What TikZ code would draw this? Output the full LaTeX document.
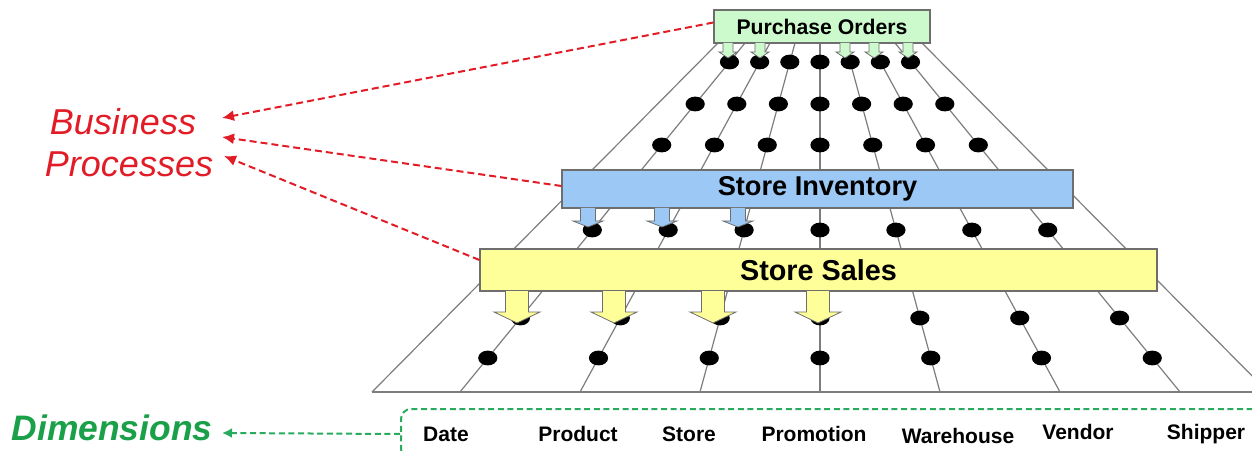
\documentclass[tikz,border=0pt]{standalone}
\usepackage{fontspec}
\setmainfont{Liberation Sans}
\usetikzlibrary{arrows.meta,calc}

\definecolor{bpred}{RGB}{226,28,38}
\definecolor{dimgreen}{RGB}{26,160,72}
\definecolor{dimdash}{RGB}{40,170,95}
\definecolor{pogreen}{RGB}{204,250,204}
\definecolor{invblue}{RGB}{155,200,245}
\definecolor{salesyellow}{RGB}{255,255,153}
\definecolor{fanline}{RGB}{125,125,125}
\definecolor{boxedge}{RGB}{110,110,110}

% block arrow: x, top, neck, tip, shaft half width, head half width, fill
\newcommand\blockarrow[7]{%
  \filldraw[fill=#7,draw=boxedge,line width=0.4pt]
    (#1-#5,#2) -- (#1-#5,#3) -- (#1-#6,#3) -- (#1,#4) -- (#1+#6,#3) -- (#1+#5,#3) -- (#1+#5,#2);}

\begin{document}
\begin{tikzpicture}[x=0.5pt,y=-0.5pt,
  fan/.style={draw=fanline,line width=0.6pt},
  procbox/.style={draw=boxedge,line width=0.6pt,inner sep=0pt,font=\bfseries},
  redarrow/.style={draw=bpred,line width=1pt,dash pattern=on 3.5pt off 2pt,
    -{Latex[length=6pt,width=5.5pt]}},
  greenarrow/.style={draw=dimdash,line width=1pt,dash pattern=on 3pt off 1.8pt,
    -{Latex[length=5pt,width=5pt]}},
  dimlabel/.style={font=\bfseries\fontsize{10.5}{12}\selectfont,inner sep=0pt}]

\useasboundingbox (0,0) rectangle (1252,454);
\clip (0,0) rectangle (1252,454);

% fan of dimension lines
\draw[fan] (718,43) -- (372,392);
\draw[fan] (922,43) -- (1268,392);
\foreach \k in {-3,...,3}
  \draw[fan] ({820+25*\k},43) -- ({820+120*\k},392);
\draw[fan] (372,392) -- (1252,392);

% fact points on the lines
\foreach \yy in {62,104,145,230,318,358}
  \foreach \k in {-3,...,3}
    \fill ({820+25*\k+(\yy-43)/349*95*\k},\yy) ellipse [x radius=4.8pt, y radius=3.7pt];

% business process boxes
\node[procbox,fill=pogreen,minimum width=108pt,minimum height=16.5pt,
  font=\bfseries\fontsize{10.6}{12}\selectfont] (po) at (822,26.5) {Purchase Orders};
\node[procbox,fill=invblue,minimum width=255.5pt,minimum height=19pt,
  font=\bfseries\fontsize{13.6}{15}\selectfont] (inv) at (817.5,189) {Store Inventory};
\node[procbox,fill=salesyellow,minimum width=338.5pt,minimum height=21pt,
  font=\bfseries\fontsize{14.4}{16}\selectfont] (sales) at (818.5,270) {Store Sales};

% arrows from the processes onto their dimensions
\foreach \xx in {728,760,845,874,908}
  {\blockarrow{\xx}{43}{52}{58}{5}{9}{pogreen}}
\foreach \xx in {588,662,738}
  {\blockarrow{\xx}{208}{221}{227}{7.5}{15}{invblue}}
\foreach \xx in {517,614,713,818}
  {\blockarrow{\xx}{291}{312}{323}{11.5}{23}{salesyellow}}

% side labels
\node[text=bpred,font=\itshape\fontsize{18}{20}\selectfont] (biz) at (123,122) {Business};
\node[text=bpred,font=\itshape\fontsize{18}{20}\selectfont] (proc) at (129,164) {Processes};
\coordinate (tipA) at (222,118);
\coordinate (tipB) at (222,137);
\coordinate (tipC) at (224,156);
\draw[redarrow] ([yshift=2pt]po.west) -- (tipA);
\draw[redarrow] ([yshift=1.5pt]inv.west) -- (tipB);
\draw[redarrow] ([yshift=5pt]sales.west) -- (tipC);

\node[text=dimgreen,font=\bfseries\itshape\fontsize{17.7}{20}\selectfont] (dims) at (112,428) {Dimensions};

% dimension row
\node[draw=dimdash,line width=1pt,dash pattern=on 3pt off 1.8pt,rounded corners=5pt,
  anchor=north west,minimum width=450pt,minimum height=25pt,inner sep=0pt] (dimbox) at (400,408) {};
\coordinate (dimtip) at (222,433);
\draw[greenarrow] (dimbox.west) -- (dimtip);

\node[dimlabel] (d1) at (446,434) {Date};
\node[dimlabel] (d2) at (578,434) {Product};
\node[dimlabel] (d3) at (689,434) {Store};
\node[dimlabel] (d4) at (814,434) {Promotion};
\node[dimlabel] (d5) at (958,436) {Warehouse};
\node[dimlabel] (d6) at (1078,432) {Vendor};
\node[dimlabel] (d7) at (1206,434) {Shipper};
\end{tikzpicture}
\end{document}
